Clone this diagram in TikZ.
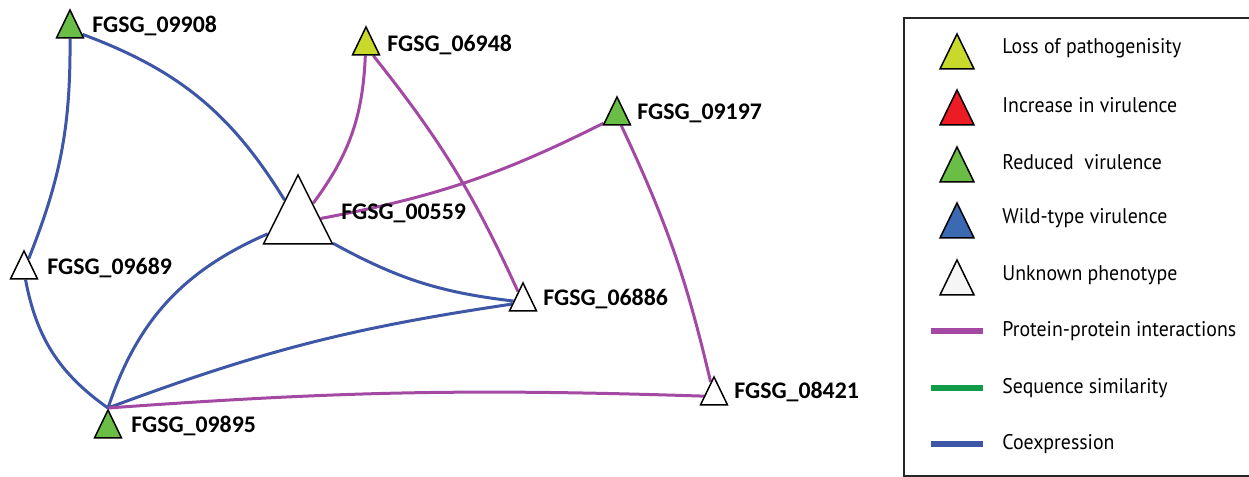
\documentclass[tikz,border=0pt]{standalone}
\usepackage{fontspec}
\setmainfont{PT Sans}[FakeStretch=0.935]
\newfontfamily\genefont{Carlito}
\usetikzlibrary{shapes.geometric, positioning, backgrounds}

\definecolor{lossyellow}{RGB}{200,217,43}
\definecolor{incred}{RGB}{237,28,36}
\definecolor{redgreen}{RGB}{106,189,69}
\definecolor{wtblue}{RGB}{59,105,178}
\definecolor{unkwhite}{RGB}{244,245,244}
\definecolor{ppipurple}{RGB}{163,73,164}
\definecolor{simgreen}{RGB}{16,156,72}
\definecolor{coexblue}{RGB}{61,86,166}

\tikzset{tri/.style={isosceles triangle, isosceles triangle stretches, rotate=90, anchor=apex,
        inner sep=0pt, draw=black, line width=0.75pt, minimum width=13.5pt, minimum height=14pt}}
\tikzset{bigtri/.style={tri, minimum width=34.5pt, minimum height=34.5pt}}
\tikzset{legtri/.style={tri, minimum width=17pt, minimum height=17.5pt}}
\tikzset{gene/.style={anchor=west, inner sep=0pt, font=\genefont\bfseries\fontsize{11.9}{14}\selectfont}}
\tikzset{legtext/.style={anchor=west, inner sep=0pt, font=\fontsize{10.6}{13}\selectfont}}
\tikzset{ppi/.style={draw=ppipurple, line width=1.5pt}}
\tikzset{coex/.style={draw=coexblue, line width=1.5pt}}
\tikzset{simil/.style={draw=simgreen, line width=1.5pt}}

\begin{document}
\begin{tikzpicture}[x=0.5pt, y=-0.5pt]
                        \useasboundingbox (0,0) rectangle (1249,477);

                        % genes
                        \node[tri, fill=redgreen] (g09908) at (70, 8) {};
                        \node[tri, fill=lossyellow] (g06948) at (366, 25) {};
                        \node[tri, fill=redgreen] (g09197) at (617, 95) {};
                        \node[bigtri, fill=white] (g00559) at (298, 173) {};
                        \node[tri, fill=white] (g09689) at (24, 249) {};
                        \node[tri, fill=white] (g06886) at (523, 281) {};
                        \node[tri, fill=white] (g08421) at (714, 375) {};
                        \node[tri, fill=redgreen] (g09895) at (108, 408) {};

                        \node[gene] (t09908) at (92, 26) {FGSG\_09908};
                        \node[gene] (t06948) at (387, 45) {FGSG\_06948};
                        \node[gene] (t09197) at (637, 113) {FGSG\_09197};
                        \node[gene] (t00559) at (341, 213) {FGSG\_00559};
                        \node[gene] (t09689) at (47, 268) {FGSG\_09689};
                        \node[gene] (t06886) at (543, 299) {FGSG\_06886};
                        \node[gene] (t08421) at (734, 392) {FGSG\_08421};
                        \node[gene] (t09895) at (131, 426) {FGSG\_09895};

                        \begin{scope}[on background layer]
                        % coexpression
                        \path[coex]
                        (g09908) to[bend left=19] (g00559)
                        (g09908) to[bend left=11] (g09689)
                        (g09689) to[bend right=22] (g09895.apex)
                        (g09895.apex) to[bend left=24] (g00559)
                        (g09895.apex) to[bend left=6] (g06886)
                        (g00559) to[bend right=11] (g06886);

                        % protein-protein interactions
                        \path[ppi]
                        (g00559) to[bend right=17] (g06948)
                        (g06948) to[bend left=7] (g06886)
                        (g00559) to[bend right=8] (g09197)
                        (g09197) to[bend left=6] (g08421)
                        (g09895.apex) to[bend left=3] (g08421);
                        \end{scope}

                        % legend
                        \draw[line width=0.75pt, draw=black!85] (904, 18) rectangle (1256, 476);
                        \node[legtri, fill=lossyellow] (k1) at (957, 32) {};
                        \node[legtri, fill=incred] (k2) at (957, 88) {};
                        \node[legtri, fill=redgreen] (k3) at (957, 145) {};
                        \node[legtri, fill=wtblue] (k4) at (957, 201) {};
                        \node[legtri, fill=unkwhite] (k5) at (957, 258) {};
                        \coordinate (k6a) at (931, 331);
                        \coordinate (k6b) at (983, 331);
                        \coordinate (k7a) at (931, 388);
                        \coordinate (k7b) at (983, 388);
                        \coordinate (k8a) at (931, 444);
                        \coordinate (k8b) at (983, 444);
                        \draw[ppi, line width=3pt] (k6a) -- (k6b);
                        \draw[simil, line width=3pt] (k7a) -- (k7b);
                        \draw[coex, line width=3pt] (k8a) -- (k8b);

                        \node[legtext] (l1) at (1002, 48) {Loss of pathogenisity};
                        \node[legtext] (l2) at (1002, 105) {Increase in virulence};
                        \node[legtext] (l3) at (1002, 162) {Reduced\ \ virulence};
                        \node[legtext] (l4) at (1002, 218) {Wild-type virulence};
                        \node[legtext] (l5) at (1002, 275) {Unknown phenotype};
                        \node[legtext] (l6) at (1002, 331) {Protein-protein interactions};
                        \node[legtext] (l7) at (1002, 388) {Sequence similarity};
                        \node[legtext] (l8) at (1002, 444) {Coexpression};
                    \end{tikzpicture}
\end{document}
